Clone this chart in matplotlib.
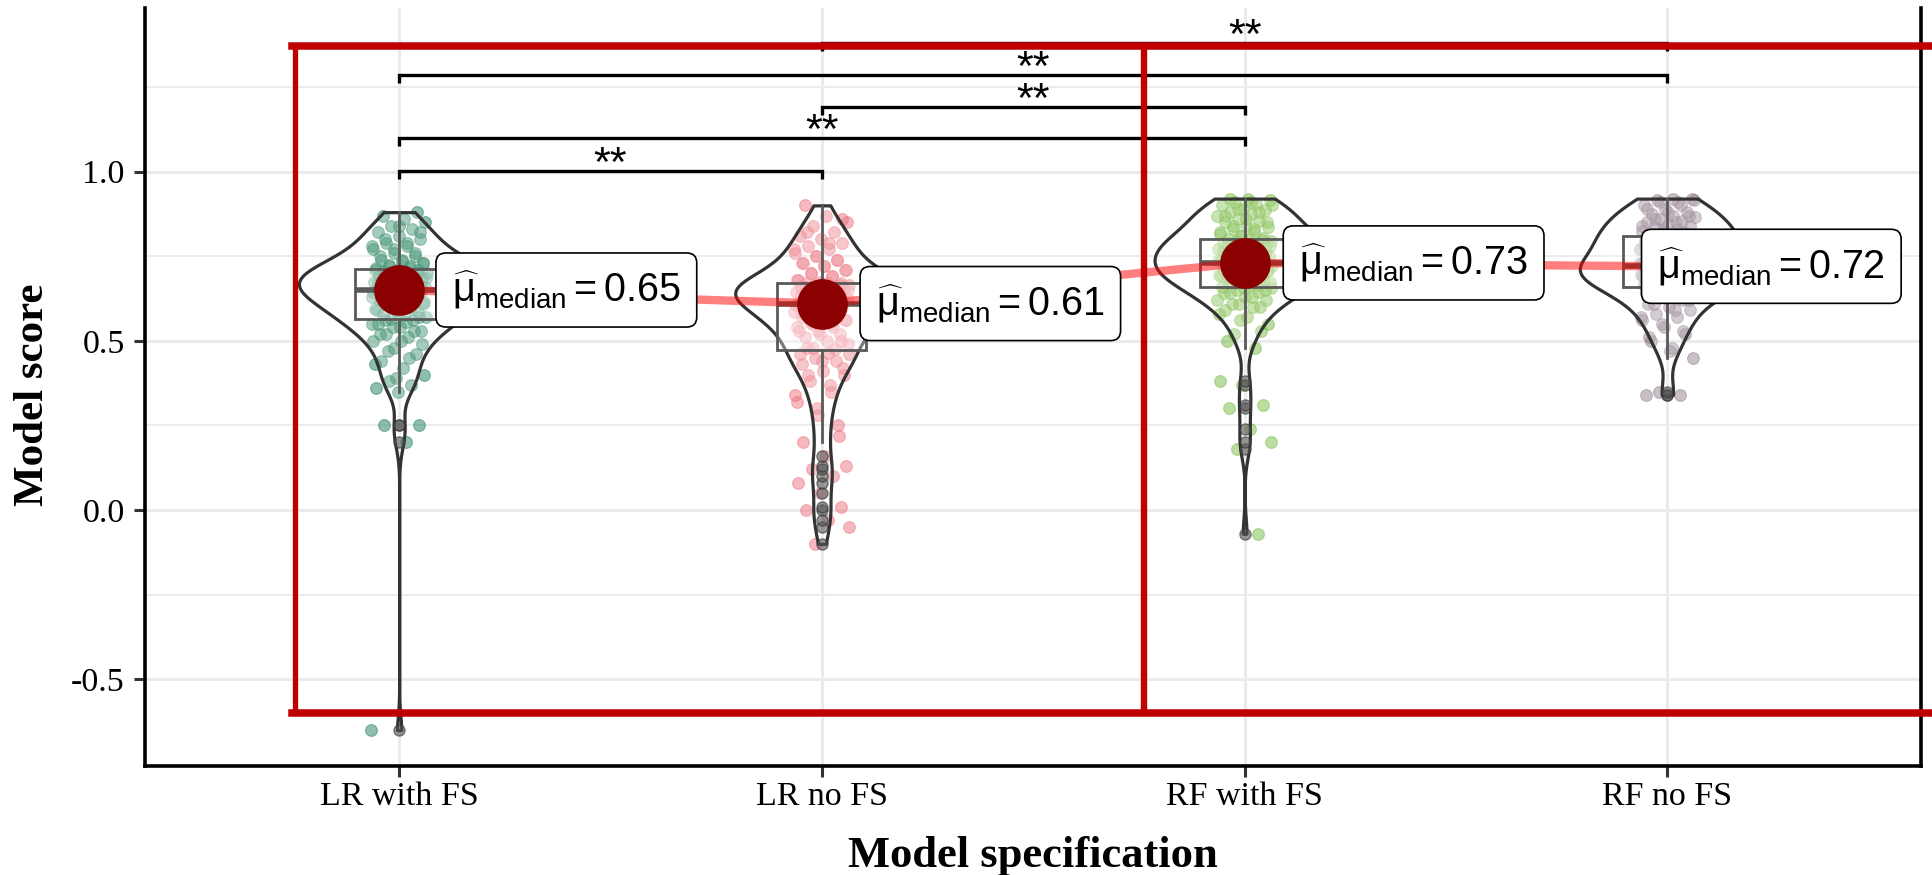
import numpy as np
import matplotlib
matplotlib.use("Agg")
import matplotlib.pyplot as plt
from matplotlib.lines import Line2D

plt.rcParams['font.family'] = ['Liberation Serif', 'DejaVu Serif']
plt.rcParams['axes.unicode_minus'] = False
plt.rcParams['mathtext.fontset'] = 'custom'
plt.rcParams['mathtext.rm'] = 'Liberation Sans'
plt.rcParams['mathtext.it'] = 'Liberation Sans:italic'
plt.rcParams['mathtext.bf'] = 'Liberation Sans:bold'

# ---------------- data ----------------
categories = ['LR with FS', 'LR no FS', 'RF with FS', 'RF no FS']

lr_with_fs = [-0.65, 0.20, 0.25, 0.25, 0.35, 0.36, 0.37, 0.38, 0.40, 0.42,
              0.44, 0.46, 0.48, 0.50, 0.51, 0.52, 0.53, 0.54, 0.55, 0.56,
              0.565, 0.57, 0.575, 0.58, 0.585, 0.59, 0.595, 0.60, 0.605, 0.61,
              0.615, 0.62, 0.62, 0.625, 0.63, 0.635, 0.64, 0.64, 0.645, 0.65,
              0.65, 0.655, 0.66, 0.66, 0.665, 0.67, 0.67, 0.675, 0.68, 0.68,
              0.685, 0.69, 0.69, 0.695, 0.70, 0.70, 0.705, 0.705, 0.71, 0.71,
              0.715, 0.72, 0.725, 0.73, 0.735, 0.74, 0.75, 0.76, 0.77, 0.78,
              0.79, 0.80, 0.81, 0.82, 0.83, 0.84, 0.85, 0.86, 0.87, 0.88,
              0.39, 0.43, 0.45, 0.47, 0.49, 0.50, 0.52, 0.53, 0.54, 0.55,
              0.555, 0.56, 0.57, 0.58, 0.59, 0.60, 0.61, 0.615, 0.62, 0.63,
              0.635, 0.64, 0.645, 0.648, 0.655, 0.66, 0.665, 0.67, 0.675, 0.68,
              0.685, 0.69, 0.695, 0.70, 0.705, 0.708, 0.715, 0.72, 0.73, 0.74,
              0.75, 0.76, 0.77, 0.78, 0.79, 0.80, 0.82, 0.84]

lr_no_fs = [-0.10, -0.05, -0.03, 0.00, 0.01, 0.05, 0.08, 0.10, 0.12, 0.13,
            0.16, 0.20, 0.25, 0.30, 0.34, 0.37, 0.40, 0.42, 0.44, 0.46,
            0.475, 0.48, 0.49, 0.50, 0.51, 0.52, 0.53, 0.54, 0.55, 0.555,
            0.56, 0.565, 0.57, 0.575, 0.58, 0.585, 0.59, 0.595, 0.60, 0.61,
            0.61, 0.615, 0.62, 0.625, 0.63, 0.635, 0.64, 0.64, 0.645, 0.65,
            0.65, 0.655, 0.655, 0.66, 0.66, 0.665, 0.665, 0.67, 0.67, 0.67,
            0.675, 0.68, 0.69, 0.70, 0.71, 0.72, 0.73, 0.74, 0.75, 0.76,
            0.77, 0.78, 0.79, 0.80, 0.81, 0.82, 0.84, 0.85, 0.87, 0.90,
            0.22, 0.28, 0.32, 0.35, 0.38, 0.40, 0.41, 0.43, 0.44, 0.45,
            0.46, 0.465, 0.48, 0.50, 0.52, 0.53, 0.54, 0.55, 0.56, 0.57,
            0.58, 0.59, 0.60, 0.605, 0.615, 0.62, 0.625, 0.63, 0.635, 0.64,
            0.645, 0.65, 0.655, 0.66, 0.665, 0.668, 0.68, 0.69, 0.70, 0.71,
            0.72, 0.73, 0.74, 0.75, 0.77, 0.79, 0.82, 0.86]

rf_with_fs = [-0.07, 0.18, 0.20, 0.24, 0.30, 0.31, 0.37, 0.38, 0.48, 0.52,
              0.55, 0.57, 0.59, 0.60, 0.61, 0.62, 0.63, 0.64, 0.65, 0.655,
              0.66, 0.665, 0.67, 0.675, 0.68, 0.685, 0.69, 0.69, 0.695, 0.70,
              0.70, 0.705, 0.71, 0.71, 0.715, 0.72, 0.72, 0.725, 0.725, 0.73,
              0.73, 0.735, 0.74, 0.745, 0.75, 0.755, 0.76, 0.765, 0.77, 0.77,
              0.775, 0.78, 0.78, 0.785, 0.79, 0.79, 0.795, 0.795, 0.80, 0.80,
              0.805, 0.81, 0.815, 0.82, 0.83, 0.835, 0.84, 0.85, 0.855, 0.86,
              0.87, 0.875, 0.88, 0.885, 0.89, 0.90, 0.905, 0.91, 0.915, 0.92,
              0.50, 0.53, 0.56, 0.58, 0.60, 0.61, 0.62, 0.63, 0.64, 0.645,
              0.65, 0.655, 0.665, 0.67, 0.68, 0.685, 0.69, 0.70, 0.705, 0.71,
              0.715, 0.72, 0.725, 0.728, 0.735, 0.74, 0.75, 0.755, 0.76, 0.765,
              0.77, 0.775, 0.78, 0.785, 0.79, 0.798, 0.81, 0.82, 0.83, 0.84,
              0.85, 0.86, 0.87, 0.88, 0.89, 0.90, 0.91, 0.92]

rf_no_fs = [0.34, 0.34, 0.35, 0.45, 0.48, 0.50, 0.52, 0.54, 0.56, 0.57,
            0.58, 0.59, 0.60, 0.61, 0.62, 0.63, 0.64, 0.645, 0.65, 0.655,
            0.66, 0.665, 0.67, 0.675, 0.68, 0.68, 0.685, 0.69, 0.69, 0.695,
            0.70, 0.70, 0.705, 0.705, 0.71, 0.71, 0.715, 0.715, 0.72, 0.72,
            0.72, 0.725, 0.73, 0.735, 0.74, 0.745, 0.75, 0.755, 0.76, 0.765,
            0.77, 0.775, 0.78, 0.785, 0.79, 0.795, 0.80, 0.80, 0.805, 0.81,
            0.81, 0.815, 0.82, 0.825, 0.83, 0.835, 0.84, 0.845, 0.85, 0.855,
            0.86, 0.865, 0.87, 0.875, 0.88, 0.89, 0.90, 0.91, 0.915, 0.92,
            0.47, 0.51, 0.53, 0.55, 0.57, 0.59, 0.61, 0.62, 0.63, 0.64,
            0.65, 0.655, 0.665, 0.67, 0.675, 0.68, 0.685, 0.69, 0.695, 0.70,
            0.705, 0.71, 0.715, 0.718, 0.725, 0.73, 0.74, 0.75, 0.76, 0.77,
            0.78, 0.785, 0.79, 0.795, 0.80, 0.805, 0.82, 0.83, 0.84, 0.85,
            0.86, 0.87, 0.88, 0.89, 0.90, 0.91, 0.915, 0.92]

medians = [0.65, 0.61, 0.73, 0.72]
median_labels = ['0.65', '0.61', '0.73', '0.72']

sig_pairs = [(1, 2), (1, 3), (2, 3), (1, 4), (2, 4)]
sig_labels = ['**', '**', '**', '**', '**']

y_ticks = [-0.5, 0.0, 0.5, 1.0]
y_tick_labels = ['-0.5', '0.0', '0.5', '1.0']
y_minor = [-0.25, 0.25, 0.75, 1.25]

x_title = 'Model specification'
y_title = 'Model score'

# ---------------- style ----------------
groups = [lr_with_fs, lr_no_fs, rf_with_fs, rf_no_fs]
point_colors = ['#157a52', '#ee6e7a', '#72b83a', '#8f7a8b']
violin_widths = [0.474, 0.41, 0.426, 0.414]
bracket_y = [1.001, 1.099, 1.19, 1.285, 1.38]
label_dx = [37.9, 38.9, 39.2, -7.2]   # points

W, H = 1933, 875
fig = plt.figure(figsize=(W / 100, H / 100), dpi=100)
ax_l, ax_r, ax_t, ax_b = 145.5, 1921.0, 8.0, 766.0
ax = fig.add_axes([ax_l / W, 1 - ax_b / H, (ax_r - ax_l) / W, (ax_b - ax_t) / H])
ax.set_xlim(0.4, 4.6)
ax.set_ylim(-0.756, 1.483)

positions = np.arange(1, len(categories) + 1)

# jittered points
for i, vals in enumerate(groups):
    v = np.asarray(vals)
    k = np.arange(len(v))
    off = (((k * 0.6180339887 + 0.37 * i) % 1.0) - 0.5) * 2 * 0.066
    ax.scatter(positions[i] + off, v, s=72, color=point_colors[i], alpha=0.48,
               edgecolors=point_colors[i], linewidths=0.8, zorder=2)

# violins
for i, vals in enumerate(groups):
    v = np.asarray(vals)
    parts = ax.violinplot([v], positions=[positions[i]], widths=violin_widths[i],
                          showextrema=False, points=400,
                          bw_method=0.045 / np.std(v))
    for b in parts['bodies']:
        b.set_facecolor((1, 1, 1, 0.2))
        b.set_edgecolor('#333333')
        b.set_linewidth(2.3)
        b.set_alpha(None)
        b.set_zorder(3)

# boxplots
ax.boxplot(groups, positions=positions, widths=0.21, whis=1.5, showcaps=False,
           patch_artist=True, manage_ticks=False, zorder=3.5,
           boxprops=dict(facecolor=(1, 1, 1, 0.35), edgecolor='#595959', linewidth=2.0),
           whiskerprops=dict(color='#595959', linewidth=2.0),
           medianprops=dict(color='#595959', linewidth=4.0),
           flierprops=dict(marker='o', markerfacecolor='#555555',
                           markeredgecolor='#333333', markersize=8, alpha=0.6))

# centrality path and points
ax.plot(positions, medians, color='red', alpha=0.5, lw=6, zorder=4,
        solid_capstyle='butt')
ax.plot(positions, medians, 'o', color='#8b0000', markersize=36.5,
        markeredgewidth=0, zorder=5)

for i, (m, lab) in enumerate(zip(medians, median_labels)):
    txt = r'$\widehat{\mathrm{\mu}}_{\mathrm{median}} = ' + lab + '$'
    ax.annotate(txt, xy=(positions[i], m), xytext=(label_dx[i], 0),
                textcoords='offset points', ha='left', va='center',
                fontsize=28.5, family='Liberation Sans', zorder=6,
                bbox=dict(boxstyle='round,pad=0.4,rounding_size=0.25',
                          fc='white', ec='black', lw=1.2))

# significance brackets
tip = 0.024
for (a, b), lab, yb in zip(sig_pairs, sig_labels, bracket_y):
    ax.plot([a, a, b, b], [yb - tip, yb, yb, yb - tip], color='black', lw=2.4,
            zorder=7, solid_joinstyle='miter', solid_capstyle='butt')
    ax.annotate(lab, xy=((a + b) / 2, yb), xytext=(0, -3.5), textcoords='offset points',
                ha='center', va='baseline', fontsize=31, family='Liberation Sans',
                zorder=7)

# axes styling
ax.set_xticks(positions)
ax.set_xticklabels(categories)
ax.set_yticks(y_ticks)
ax.set_yticklabels(y_tick_labels)
ax.set_yticks(y_minor, minor=True)
ax.grid(which='major', color='#ebebeb', lw=2.2)
ax.grid(which='minor', axis='y', color='#ebebeb', lw=1.3)
ax.set_axisbelow(True)
ax.tick_params(axis='both', which='major', length=8, width=2.2, color='#333333',
               labelsize=24.5, labelcolor='black')
ax.tick_params(axis='y', which='major', pad=7)
ax.tick_params(axis='x', which='major', pad=3)
ax.tick_params(axis='y', which='minor', length=0)
ax.spines['top'].set_visible(False)
for s in ['left', 'bottom', 'right']:
    ax.spines[s].set_linewidth(2.6)
    ax.spines[s].set_color('black')

ax.set_xlabel(x_title, fontsize=32, fontweight='bold')
ax.xaxis.set_label_coords(0.5, (ax_b - 867) / (ax_b - ax_t))
ax.xaxis.label.set_va('baseline')
ax.set_ylabel(y_title, fontsize=31, fontweight='bold')
ax.yaxis.set_label_coords((33 - ax_l) / (ax_r - ax_l), (ax_b - 394.5) / (ax_b - ax_t))
ax.yaxis.label.set_va('center')

# red highlight frames (figure-level annotation)
def fx(px):
    return px / W

def fy(py):
    return 1 - py / H

red = '#c00000'
top_y, bot_y = 46, 713
fig.add_artist(Line2D([fx(292), fx(W + 20)], [fy(top_y), fy(top_y)], color=red, lw=5.4,
                      transform=fig.transFigure, zorder=20))
fig.add_artist(Line2D([fx(292), fx(W + 20)], [fy(bot_y), fy(bot_y)], color=red, lw=5.4,
                      transform=fig.transFigure, zorder=20))
fig.add_artist(Line2D([fx(295), fx(295)], [fy(top_y), fy(bot_y)], color=red, lw=3.8,
                      transform=fig.transFigure, zorder=20))
fig.add_artist(Line2D([fx(1144), fx(1144)], [fy(top_y), fy(bot_y)], color=red, lw=4.6,
                      transform=fig.transFigure, zorder=20))

fig.savefig('out.png', dpi=100)
